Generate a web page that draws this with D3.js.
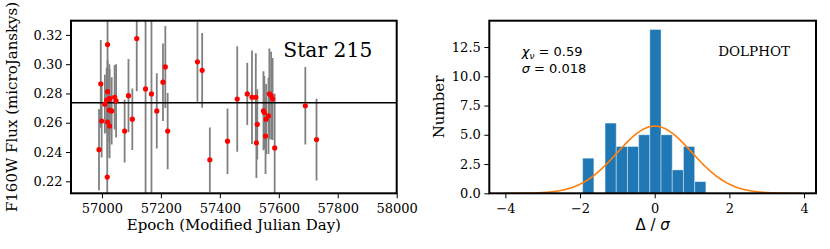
<!DOCTYPE html>
<html>
<head>
<meta charset="utf-8">
<script src="https://cdn.jsdelivr.net/npm/d3@7"></script>
<style>
  body { margin: 0; background: #fff; }
  .tick text { font-family: "DejaVu Serif", serif; font-size: 13px; fill: #000; }
  .tick line { stroke: #000; stroke-width: 1; }
  .lbl { font-family: "DejaVu Serif", serif; font-size: 15px; fill: #000; }
</style>
</head>
<body>
<div id="chart"></div>
<script>
// light curve of star 215
let mjd = [56990, 56996, 56999, 57010, 57016, 57018, 57019, 57019, 57025, 57026, 57025, 57033,
           57019, 57026, 57043, 57048, 57077, 57090, 57103, 57118, 57148, 57168, 57186, 57207,
           57215, 57223, 57324, 57340, 57366, 57426, 57459, 57493, 57509, 57522, 57524, 57527,
           57548, 57551, 57555, 57557, 57565, 57568, 57574, 57579, 57586, 57690, 57728];
let flux = [0.2416, 0.2866, 0.2612, 0.2727, 0.2755, 0.2229, 0.3134, 0.2812, 0.2760, 0.2767, 0.2686, 0.2681,
            0.2605, 0.2577, 0.2774, 0.2750, 0.2543, 0.2785, 0.2624, 0.3175, 0.2831, 0.2797, 0.2681, 0.2877,
            0.2981, 0.2543, 0.3016, 0.2958, 0.2347, 0.2474, 0.2762, 0.2797, 0.2774, 0.2774, 0.2463, 0.2589,
            0.2682, 0.2670, 0.2509, 0.2624, 0.2647, 0.2797, 0.2785, 0.2762, 0.2428, 0.2716, 0.2485];
let fluxErr = [0.0277, 0.030, 0.025, 0.020, 0.022, 0.050, 0.050, 0.022, 0.024, 0.020, 0.022, 0.023,
               0.024, 0.022, 0.022, 0.025, 0.0214, 0.025, 0.021, 0.036, 0.080, 0.080, 0.0257, 0.0265,
               0.028, 0.026, 0.0272, 0.0255, 0.022, 0.0224, 0.036, 0.0213, 0.032, 0.030, 0.024, 0.024,
               0.027, 0.025, 0.026, 0.024, 0.026, 0.031, 0.030, 0.028, 0.037, 0.0265, 0.0279];
let meanFlux = 0.2737;
let xTicksL = [57000, 57200, 57400, 57600, 57800, 58000];
let yTicksL = [0.22, 0.24, 0.26, 0.28, 0.30, 0.32];

// histogram of deviations
let binEdges = [-1.93, -1.63, -1.33, -1.03, -0.73, -0.43, -0.13, 0.17, 0.47, 0.77, 1.07, 1.37];
let counts = [3, 0, 6, 4, 4, 5, 14, 5, 2, 4, 1];
let gaussAmp = 5.74, gaussMu = 0, gaussSigma = 1;
let xTicksR = [-4, -2, 0, 2, 4];
let yTicksR = [0, 2.5, 5, 7.5, 10, 12.5];

let W = 830, H = 249;
let topY = 20.7, bottomY = 193.3;

let svg = d3.select("#chart").append("svg")
    .attr("width", W)
    .attr("height", H);

// ---------- left panel ----------
let L = {left: 71, right: 396.7};

let x = d3.scaleLinear().domain([56895, 58000]).range([L.left, L.right]);
let y = d3.scaleLinear().domain([0.2118, 0.3297]).range([bottomY, topY]);

svg.append("clipPath").attr("id", "clipL")
    .append("rect")
    .attr("x", L.left).attr("y", topY)
    .attr("width", L.right - L.left).attr("height", bottomY - topY);

let plotL = svg.append("g").attr("clip-path", "url(#clipL)");

plotL.selectAll(".err")
    .data(mjd)
    .enter()
    .append("line")
    .attr("class", "err")
    .attr("x1", (d, i) => x(d))
    .attr("x2", (d, i) => x(d))
    .attr("y1", (d, i) => y(flux[i] - fluxErr[i]))
    .attr("y2", (d, i) => y(flux[i] + fluxErr[i]))
    .attr("stroke", "#808080")
    .attr("stroke-width", 1.8);

plotL.append("line")
    .attr("x1", L.left).attr("x2", L.right)
    .attr("y1", y(meanFlux)).attr("y2", y(meanFlux))
    .attr("stroke", "#000")
    .attr("stroke-width", 1.5);

plotL.selectAll(".pt")
    .data(mjd)
    .enter()
    .append("circle")
    .attr("class", "pt")
    .attr("cx", d => x(d))
    .attr("cy", (d, i) => y(flux[i]))
    .attr("r", 2.6)
    .attr("fill", "#ff0000");

svg.append("g")
    .attr("transform", "translate(0," + bottomY + ")")
    .call(d3.axisBottom(x).tickValues(xTicksL).tickFormat(d3.format("d")).tickSize(5).tickPadding(5))
    .call(g => g.select(".domain").remove());

svg.append("g")
    .attr("transform", "translate(" + L.left + ",0)")
    .call(d3.axisLeft(y).tickValues(yTicksL).tickFormat(d3.format(".2f")).tickSize(5).tickPadding(3.5))
    .call(g => g.select(".domain").remove());

svg.append("rect")
    .attr("x", L.left).attr("y", topY)
    .attr("width", L.right - L.left).attr("height", bottomY - topY)
    .attr("fill", "none").attr("stroke", "#000").attr("stroke-width", 2);

svg.append("text")
    .attr("x", 283.3).attr("y", 56.7)
    .attr("font-family", "DejaVu Serif").attr("font-size", 20.3)
    .text("Star 215");

svg.append("text")
    .attr("class", "lbl")
    .attr("x", (L.left + L.right) / 2).attr("y", 229.5)
    .attr("text-anchor", "middle")
    .text("Epoch (Modified Julian Day)");

svg.append("text")
    .attr("class", "lbl")
    .attr("transform", "translate(16.5," + (topY + bottomY) / 2 + ") rotate(-90)")
    .attr("text-anchor", "middle")
    .text("F160W Flux (microJanskys)");

// ---------- right panel ----------
let R = {left: 489.3, right: 816};

let x2 = d3.scaleLinear().domain([-4.43, 4.32]).range([R.left, R.right]);
let y2 = d3.scaleLinear().domain([0, 14.75]).range([bottomY, topY]);

let bins = counts.map((c, i) => ({x0: binEdges[i], x1: binEdges[i + 1], n: c}));

svg.selectAll(".bar")
    .data(bins.filter(b => b.n > 0))
    .enter()
    .append("rect")
    .attr("class", "bar")
    .attr("x", d => x2(d.x0))
    .attr("y", d => y2(d.n))
    .attr("width", d => x2(d.x1) - x2(d.x0))
    .attr("height", d => y2(0) - y2(d.n))
    .attr("fill", "#1f77b4")
    .attr("stroke", "rgba(255,255,255,0.4)")
    .attr("stroke-width", 1);

let gx = d3.range(-4.03, 3.925, 0.02);
let gauss = d3.line()
    .x(d => x2(d))
    .y(d => y2(gaussAmp * Math.exp(-0.5 * Math.pow((d - gaussMu) / gaussSigma, 2))));

svg.append("path")
    .datum(gx)
    .attr("d", gauss)
    .attr("fill", "none")
    .attr("stroke", "#ff7f0e")
    .attr("stroke-width", 1.6);

svg.append("g")
    .attr("transform", "translate(0," + bottomY + ")")
    .call(d3.axisBottom(x2).tickValues(xTicksR).tickFormat(d3.format("d")).tickSize(5).tickPadding(5))
    .call(g => g.select(".domain").remove());

svg.append("g")
    .attr("transform", "translate(" + R.left + ",0)")
    .call(d3.axisLeft(y2).tickValues(yTicksR).tickFormat(d3.format(".1f")).tickSize(5).tickPadding(3.5))
    .call(g => g.select(".domain").remove());

svg.append("rect")
    .attr("x", R.left).attr("y", topY)
    .attr("width", R.right - R.left).attr("height", bottomY - topY)
    .attr("fill", "none").attr("stroke", "#000").attr("stroke-width", 2);

let chi = svg.append("text")
    .attr("x", 521.7).attr("y", 56.3)
    .attr("font-family", "DejaVu Sans").attr("font-size", 13);
chi.append("tspan").attr("font-style", "italic").text("χ");
chi.append("tspan").attr("font-style", "italic").attr("font-size", 9).attr("dy", 2.5).text("ν");
chi.append("tspan").attr("dy", -2.5).text(" = 0.59");

let sig = svg.append("text")
    .attr("x", 521.7).attr("y", 72.7)
    .attr("font-family", "DejaVu Sans").attr("font-size", 13);
sig.append("tspan").attr("font-style", "italic").text("σ");
sig.append("tspan").text(" = 0.018");

svg.append("text")
    .attr("x", 790).attr("y", 56)
    .attr("text-anchor", "end")
    .attr("font-family", "DejaVu Serif").attr("font-size", 13.5)
    .text("DOLPHOT");

let xl = svg.append("text")
    .attr("class", "lbl")
    .attr("x", (R.left + R.right) / 2).attr("y", 229.5)
    .attr("text-anchor", "middle");
xl.append("tspan").attr("font-family", "DejaVu Sans").text("Δ");
xl.append("tspan").attr("font-family", "DejaVu Sans").text(" / ");
xl.append("tspan").attr("font-family", "DejaVu Sans").attr("font-style", "italic").text("σ");

svg.append("text")
    .attr("class", "lbl")
    .attr("transform", "translate(444," + (topY + bottomY) / 2 + ") rotate(-90)")
    .attr("text-anchor", "middle")
    .text("Number");
</script>
</body>
</html>
